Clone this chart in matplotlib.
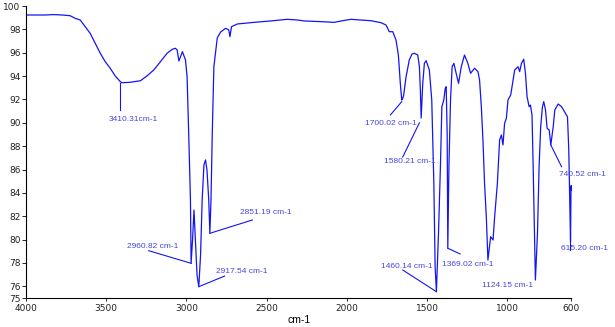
import matplotlib
matplotlib.use('Agg')
import matplotlib.pyplot as plt

wavenumber = [4000, 3881, 3837, 3819, 3775, 3725, 3694, 3662, 3631, 3600, 3569, 3537, 3506, 3475, 3444,
              3412, 3402, 3350, 3287, 3246, 3204, 3162, 3121, 3089, 3069, 3058, 3047, 3025, 3006, 2996,
              2986, 2975, 2971, 2962, 2953, 2944,
              2934, 2923, 2912, 2902, 2891, 2881, 2872, 2861, 2854, 2847, 2839, 2829, 2808, 2787,
              2756, 2736, 2729, 2719, 2683, 2579, 2475, 2371, 2308, 2267, 2162, 2079, 2027, 1975,
              1850, 1787, 1756, 1736, 1714, 1694, 1679, 1667, 1658, 1653, 1646, 1631, 1611, 1594,
              1579, 1558, 1548, 1542, 1537, 1527, 1517, 1506, 1486, 1471, 1458, 1450, 1442, 1429,
              1417, 1408, 1396, 1387, 1381, 1375, 1371, 1364, 1354, 1344, 1333, 1319, 1304, 1287,
              1267, 1246, 1229, 1204, 1183, 1173, 1162, 1152, 1142, 1131, 1121, 1104, 1089, 1079,
              1062, 1048, 1037, 1027, 1017, 1006, 996, 979, 954, 933, 923, 912, 898, 887, 877, 864,
              856, 846, 839, 833, 825, 812, 802, 792, 781, 773, 762, 752, 739, 729, 714, 704, 683,
              662, 637, 625, 617, 611, 606, 603, 601, 600]
transmittance = [99.23, 99.23, 99.26, 99.26, 99.23, 99.17, 98.95, 98.80, 98.23, 97.66, 96.81, 95.95, 95.23, 94.67, 94.01,
                 93.52, 93.43, 93.47, 93.60, 94.01, 94.52, 95.23, 95.95, 96.29, 96.38, 96.23, 95.29, 96.09, 95.38, 93.95,
                 89.13, 83.39, 77.97, 79.97, 82.53, 79.97,
                 76.97, 75.97, 78.68, 83.39, 86.39, 86.82, 85.96, 83.39, 80.54, 83.39, 89.13, 94.80, 97.26, 97.77,
                 98.09, 97.95, 97.37, 98.23, 98.46, 98.60, 98.72, 98.86, 98.80, 98.72, 98.66, 98.60, 98.74, 98.86,
                 98.74, 98.57, 98.37, 97.80, 97.80, 97.09, 95.80, 93.38, 91.95, 92.04, 92.38, 93.95, 95.38, 95.89,
                 95.95, 95.80, 94.80, 92.81, 90.41, 93.38, 95.09, 95.32, 94.52, 91.95, 84.85, 77.68, 75.54, 80.54,
                 86.24, 91.38, 91.95, 92.95, 93.09, 89.13, 79.26, 86.24, 91.95, 94.80, 95.09, 94.24, 93.38, 94.80,
                 95.80, 95.09, 94.24, 94.67, 94.38, 93.66, 91.38, 88.53, 84.82, 81.96, 78.25, 80.25, 79.97, 81.96,
                 84.82, 88.53, 88.96, 88.10, 89.96, 90.39, 91.95, 92.38, 94.52, 94.80, 94.38, 95.09, 95.44, 94.24, 92.23, 91.38,
                 91.52, 90.67, 86.24, 81.96, 76.54, 80.54, 86.24, 89.67, 91.38, 91.81, 91.10, 89.53, 89.38, 88.10, 89.67, 91.10, 91.61,
                 91.38, 90.81, 90.52, 87.67, 83.39, 79.80, 84.6, 84.2, 84.6]

# label text, text position (wn, T), leader line start and end
peak_labels = ['3410.31cm-1', '2960.82 cm-1', '2917.54 cm-1', '2851.19 cm-1', '1700.02 cm-1',
               '1580.21 cm-1', '1460.14 cm-1', '1369.02 cm-1', '1124.15 cm-1', '740.52 cm-1', '615.20 cm-1']
label_pos = [(3331, 90.24), (3212, 79.4), (2656, 77.23), (2508, 82.30), (1725, 89.96),
             (1610, 86.70), (1629, 77.68), (1246, 77.83), (998, 76.03), (532, 85.59), (522, 79.26)]
leader_from = [(3412, 93.43), (2971, 77.97), (2923, 75.97), (2854, 80.54), (1658, 91.81),
               (1548, 90.0), (1442, 75.54), (1371, 79.26), (825, 76.54), (729, 88.10), (611, 80.56)]
leader_to = [(3412, 91.1), (3235, 79.05), (2762, 76.88), (2589, 81.68), (1729, 90.67),
             (1652, 87.07), (1652, 77.4), (1294, 78.77), (825, 76.54), (662, 86.24), (611, 79.11)]

y_ticks = [75, 76, 78, 80, 82, 84, 86, 88, 90, 92, 94, 96, 98, 100]
x_ticks = [4000, 3500, 3000, 2500, 2000, 1500, 1000, 600]

line_color = '#1414f5'
label_color = '#4646dc'
narrow = ['Liberation Sans Narrow', 'DejaVu Sans']

fig = plt.figure(figsize=(6.15, 3.27), dpi=100)
ax = fig.add_axes([26 / 615, 1 - 298 / 327, 545.5 / 615, 292 / 327])

ax.plot(wavenumber, transmittance, color=line_color, lw=0.9)

for text, pos, p0, p1 in zip(peak_labels, label_pos, leader_from, leader_to):
    ax.plot([p0[0], p1[0]], [p0[1], p1[1]], color=line_color, lw=0.8, clip_on=False)
    ax.text(pos[0], pos[1], text, color=label_color, fontsize=6, family='Liberation Sans',
            ha='center', va='center', clip_on=False)

ax.set_xlim(4000, 600)
ax.set_ylim(75, 100)
ax.set_xticks(x_ticks)
ax.set_yticks(y_ticks)
ax.set_xticklabels([str(t) for t in x_ticks], family=narrow, fontsize=6.5, color='#222222')
ax.set_yticklabels([str(t) for t in y_ticks], family=narrow, fontsize=6.5, color='#222222')
ax.tick_params(axis='y', length=3, width=0.6, pad=1)
ax.tick_params(axis='x', length=2, width=0.6, pad=2)
ax.set_xlabel('cm-1', family='Liberation Sans', fontsize=7.5, labelpad=2)

ax.spines['top'].set_visible(False)
ax.spines['right'].set_visible(False)
ax.spines['left'].set_linewidth(0.8)
ax.spines['bottom'].set_linewidth(0.8)

fig.savefig('out.png', dpi=100)
